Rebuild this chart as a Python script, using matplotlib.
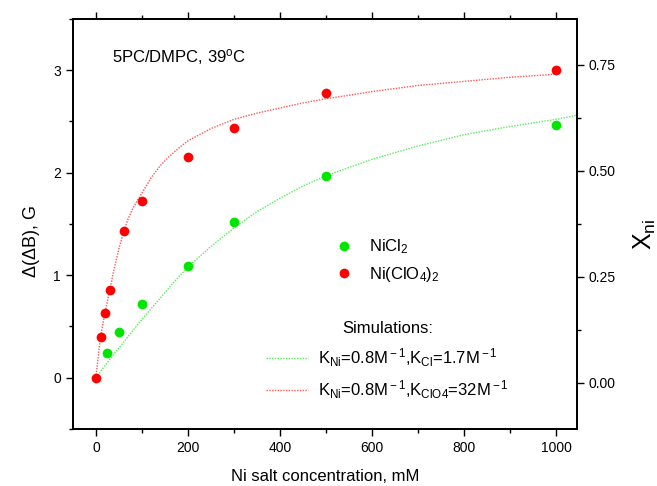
import numpy as np
import matplotlib.pyplot as plt
from matplotlib.lines import Line2D
from matplotlib.ticker import MultipleLocator

plt.rcParams['font.family'] = ['Liberation Sans', 'DejaVu Sans']
plt.rcParams['mathtext.fontset'] = 'custom'
plt.rcParams['mathtext.rm'] = 'Liberation Sans'
plt.rcParams['mathtext.it'] = 'Liberation Sans:italic'

# measured line broadening vs. salt concentration
nicl2_conc = [25, 50, 100, 200, 300, 500, 1000]
nicl2_dB = [0.24, 0.45, 0.72, 1.09, 1.52, 1.97, 2.46]

niclo4_conc = [0, 10, 20, 30, 60, 100, 200, 300, 500, 1000]
niclo4_dB = [0.0, 0.40, 0.635, 0.86, 1.435, 1.72, 2.155, 2.435, 2.78, 3.0]

# simulated curves
sim_cl_conc = [0, 25, 50, 75, 100, 125, 150, 175, 200, 250, 300, 350, 400, 450, 500,
               600, 700, 800, 900, 1000, 1045]
sim_cl_dB = [0.0, 0.15, 0.29, 0.43, 0.57, 0.70, 0.83, 0.96, 1.08, 1.28, 1.46, 1.62, 1.75, 1.87, 1.97,
             2.13, 2.26, 2.37, 2.45, 2.52, 2.56]

sim_clo4_conc = [0, 5, 10, 20, 30, 40, 50, 60, 70, 80, 90, 100, 120, 140, 160, 180, 200,
                 250, 300, 350, 400, 450, 500, 600, 700, 800, 900, 1000]
sim_clo4_dB = [0.0, 0.21, 0.40, 0.64, 0.86, 1.07, 1.26, 1.42, 1.55, 1.65, 1.73, 1.80, 1.95, 2.07, 2.16, 2.24, 2.31,
               2.43, 2.52, 2.58, 2.63, 2.68, 2.72, 2.79, 2.85, 2.89, 2.93, 2.96]

green = '#00e600'
red = '#ff0000'
green_line = '#55ee55'
red_line = '#ff5555'

fig = plt.figure(figsize=(6.57, 4.86), dpi=100)
ax = fig.add_axes([0.111, 0.1173, 0.767, 0.844])

ax.plot(sim_cl_conc, sim_cl_dB, color=green_line, lw=1, linestyle=(0, (1, 1)))
ax.plot(sim_clo4_conc, sim_clo4_dB, color=red_line, lw=1, linestyle=(0, (1, 1)))
ax.plot(nicl2_conc, nicl2_dB, 'o', color=green, ms=7, mec='none')
ax.plot(niclo4_conc, niclo4_dB, 'o', color=red, ms=7, mec='none')

ax.set_xlim(-50, 1045)
ax.set_ylim(-0.5, 3.5)
ax.xaxis.set_major_locator(MultipleLocator(200))
ax.xaxis.set_minor_locator(MultipleLocator(100))
ax.yaxis.set_major_locator(MultipleLocator(1))
ax.yaxis.set_minor_locator(MultipleLocator(0.5))
ax.tick_params(which='both', direction='out', top=True, right=False, labelsize=10, width=1)
ax.tick_params(which='major', length=5)
ax.tick_params(which='minor', length=3)
for s in ax.spines.values():
    s.set_linewidth(1.3)

ax.set_xlabel('Ni salt concentration, mM', fontsize=12)
ax.set_ylabel('Δ(Δ$\\mathrm{B}$), G', fontsize=13)
ax.yaxis.set_label_coords(-0.062, 0.456)
ax.xaxis.set_label_coords(0.5, -0.098)

ax.text(0.077, 0.894, '5PC/DMPC, 39$^{\\rm o}$C', transform=ax.transAxes, fontsize=12, va='baseline')

# right axis: mole fraction
ax2 = ax.twinx()
ax2.set_ylim(-0.109, 0.859)
ax2.yaxis.set_major_locator(MultipleLocator(0.25))
ax2.yaxis.set_minor_locator(MultipleLocator(0.125))
ax2.yaxis.set_major_formatter(plt.FormatStrFormatter('%.2f'))
ax2.tick_params(which='both', direction='out', labelsize=10, width=1)
ax2.tick_params(which='major', length=5)
ax2.tick_params(which='minor', length=3)
ax2.set_ylabel('X$_{\\rm ni}$', fontsize=18)
ax2.yaxis.set_label_coords(1.109, 0.475)
for s in ax2.spines.values():
    s.set_linewidth(1.3)

pts = [Line2D([], [], ls='none', marker='o', color=green, ms=7, mec='none'),
       Line2D([], [], ls='none', marker='o', color=red, ms=7, mec='none')]
leg1 = ax.legend(pts, ['NiCl$_2$', 'Ni(ClO$_4$)$_2$'], loc='upper left',
                 bbox_to_anchor=(0.488, 0.487), frameon=False, fontsize=12,
                 borderpad=0, handletextpad=0.5, labelspacing=0.5)
ax.add_artist(leg1)

sims = [Line2D([], [], color=green_line, lw=1, linestyle=(0, (1, 1))),
        Line2D([], [], color=red_line, lw=1, linestyle=(0, (1, 1)))]
ax.legend(sims, ['K$_{\\rm Ni}$=0.8M$^{\\rm -1}$,K$_{\\rm Cl}$=1.7M$^{\\rm -1}$',
                 'K$_{\\rm Ni}$=0.8M$^{\\rm -1}$,K$_{\\rm ClO4}$=32M$^{\\rm -1}$'],
          title='Simulations:', title_fontsize=12, loc='upper left',
          bbox_to_anchor=(0.367, 0.283), frameon=False, fontsize=12,
          borderpad=0, handlelength=2.5, handletextpad=0.6, labelspacing=0.6)

fig.savefig('out.png', dpi=100)
